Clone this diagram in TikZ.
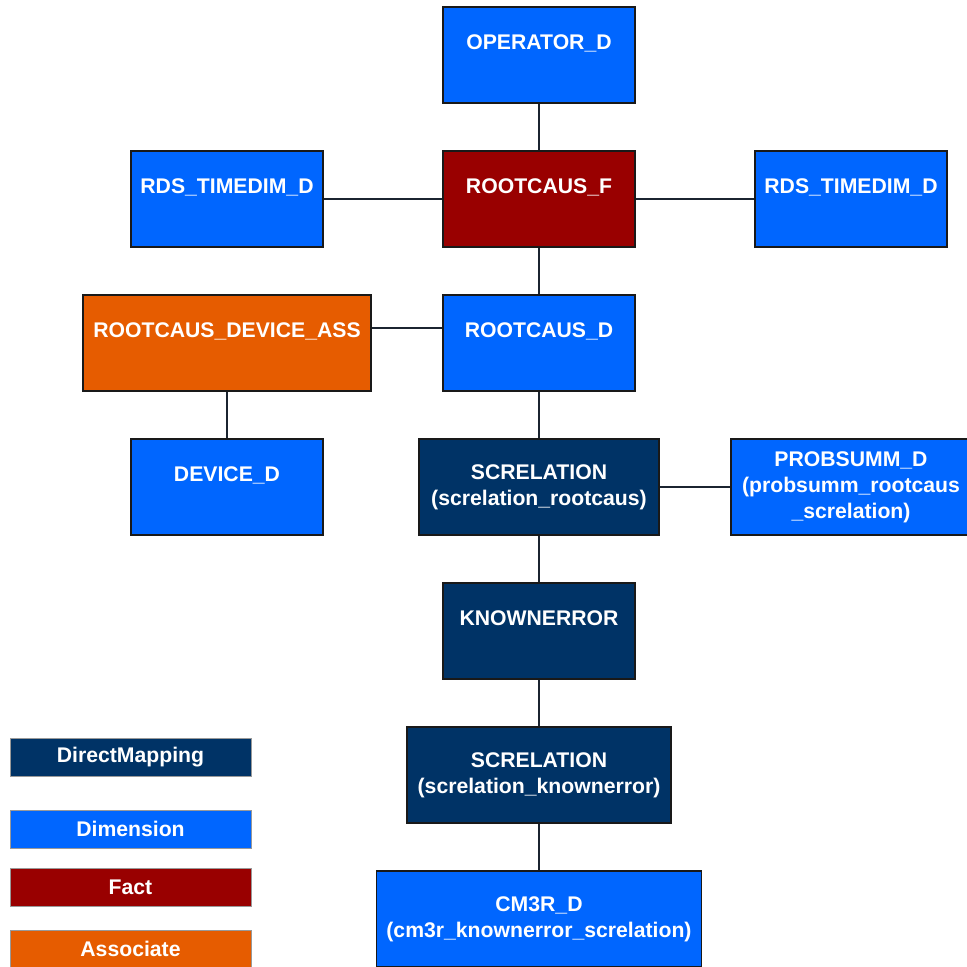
\documentclass[tikz,border=0pt]{standalone}
\usepackage{fontspec}
\setmainfont{Liberation Sans}
\usepackage{tikz}
\definecolor{dimblue}{HTML}{0066FF}
\definecolor{factred}{HTML}{990000}
\definecolor{mapnavy}{HTML}{003366}
\definecolor{assorange}{HTML}{E65C00}
\definecolor{edgeline}{HTML}{1B2430}
\begin{document}
\begin{tikzpicture}[x=1pt,y=1pt,yscale=-1,
  tbl/.style={draw=black!90,line width=1.6pt,rectangle,inner sep=0pt,minimum height=96pt,
    text=white,align=center,font=\bfseries\fontsize{21.2}{26}\selectfont},
  dimbox/.style={tbl,fill=dimblue},
  factbox/.style={tbl,fill=factred},
  mapbox/.style={tbl,fill=mapnavy},
  assbox/.style={tbl,fill=assorange},
  legbox/.style={draw=black!40,line width=0.8pt,rectangle,inner sep=0pt,minimum width=241pt,
    minimum height=38pt,text=white,font=\bfseries\fontsize{21.2}{26}\selectfont},
  link/.style={draw=edgeline,line width=1.6pt}]

\useasboundingbox (0,0) rectangle (967,967);

% tables
\node [dimbox,minimum width=192pt] (operator) at (539,55) {OPERATOR\_D\\~};
\node [dimbox,minimum width=192pt] (timeleft) at (227,199) {RDS\_TIMEDIM\_D\\~};
\node [factbox,minimum width=192pt] (fact) at (539,199) {ROOTCAUS\_F\\~};
\node [dimbox,minimum width=192pt] (timeright) at (851,199) {RDS\_TIMEDIM\_D\\~};
\node [assbox,minimum width=288pt] (devass) at (227,343) {ROOTCAUS\_DEVICE\_ASS\\~};
\node [dimbox,minimum width=192pt] (rootcaus) at (539,343) {ROOTCAUS\_D\\~};
\node [dimbox,minimum width=192pt] (device) at (227,487) {DEVICE\_D\\~};
\node [mapbox,minimum width=240pt] (screlroot) at (539,487) {SCRELATION\\(screlation\_rootcaus)};
\node [dimbox,minimum width=240pt] (probsumm) at (851,487) {PROBSUMM\_D\\(probsumm\_rootcaus\\\_screlation)};
\node [mapbox,minimum width=192pt] (knownerr) at (539,631) {KNOWNERROR\\~};
\node [mapbox,minimum width=264pt] (screlknown) at (539,775) {SCRELATION\\(screlation\_knownerror)};
\node [dimbox,minimum width=325pt] (cmthree) at (539,919) {CM3R\_D\\(cm3r\_knownerror\_screlation)};

% links
\draw [link] (operator) -- (fact);
\draw [link] (timeleft) -- (fact);
\draw [link] (fact) -- (timeright);
\draw [link] (fact) -- (rootcaus);
\draw [link] ([yshift=-15pt]devass.east) -- ([yshift=-15pt]rootcaus.west);
\draw [link] (devass) -- (device);
\draw [link] (rootcaus) -- (screlroot);
\draw [link] (screlroot) -- (probsumm);
\draw [link] (screlroot) -- (knownerr);
\draw [link] (knownerr) -- (screlknown);
\draw [link] (screlknown) -- (cmthree);

% legend
\node [legbox,fill=mapnavy] (legmap) at (130.5,757) {DirectMapping};
\node [legbox,fill=dimblue] (legdim) at (130.5,829) {Dimension};
\node [legbox,fill=factred] (legfact) at (130.5,887) {Fact};
\node [legbox,fill=assorange] (legass) at (130.5,949) {Associate};

\end{tikzpicture}
\end{document}
